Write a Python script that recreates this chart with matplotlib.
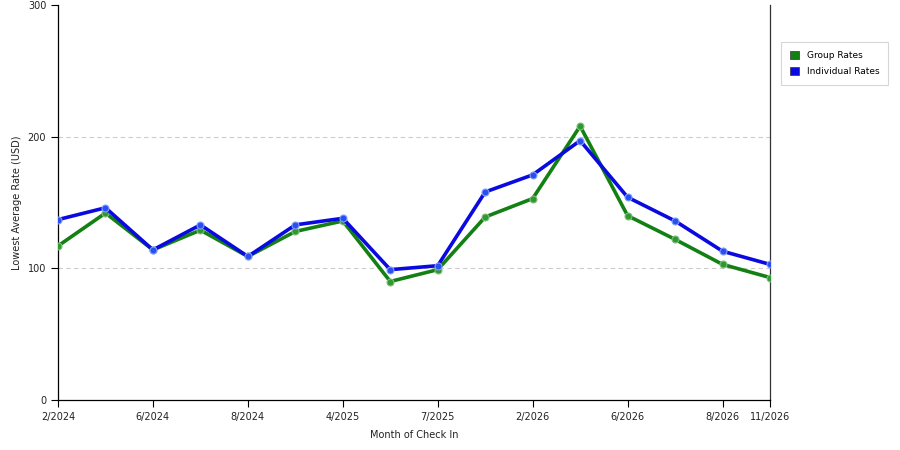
import matplotlib
matplotlib.use("Agg")
import matplotlib.pyplot as plt
from matplotlib.patches import Patch

# lowest average rate per month of check-in
months = ["2/2024", "4/2024", "6/2024", "7/2024", "8/2024", "10/2024", "4/2025", "6/2025",
          "7/2025", "9/2025", "2/2026", "4/2026", "6/2026", "7/2026", "8/2026", "11/2026"]
group_rates = [117, 142, 114, 129, 109, 128, 136, 90, 99, 139, 153, 208, 140, 122, 103, 93]
individual_rates = [137, 146, 114, 133, 109, 133, 138, 99, 102, 158, 171, 197, 154, 136, 113, 103]
tick_idx = [0, 2, 4, 6, 8, 10, 12, 14, 15]
y_ticks = [0, 100, 200, 300]

GREEN = "#138013"
BLUE = "#0a0ae0"

plt.rcParams["font.family"] = ["DejaVu Sans"]

fig = plt.figure(figsize=(9, 4.5), dpi=100)
ax = fig.add_axes((58 / 900, 50 / 450, 712 / 900, 395 / 450))

x = list(range(len(months)))
ax.plot(x, group_rates, color=GREEN, lw=2.6, marker="o", ms=5,
        mfc="#2e9a2e", mec="#7fbf7f", mew=0.8, zorder=3)
ax.plot(x, individual_rates, color=BLUE, lw=2.6, marker="o", ms=5,
        mfc="#2a4ef0", mec="#7f9fff", mew=0.8, zorder=4)

ax.set_xlim(0, len(months) - 1)
ax.set_ylim(0, 300)
ax.set_xticks(tick_idx)
ax.set_xticklabels([months[i] for i in tick_idx])
ax.set_yticks(y_ticks)
ax.tick_params(labelsize=7, length=5, width=0.8, colors="black", labelcolor="#222222")

for v in y_ticks[1:-1]:
    ax.axhline(v, color="#cccccc", lw=0.8, ls=(0, (4, 3)), zorder=1)

ax.spines["top"].set_visible(False)
ax.spines["right"].set_color("#333333")
for s in ("left", "bottom", "right"):
    ax.spines[s].set_linewidth(0.9)

ax.set_xlabel("Month of Check In", fontsize=7, labelpad=6, color="#222222")
ax.set_ylabel("Lowest Average Rate (USD)", fontsize=7, labelpad=4, color="#222222")

handles = [Patch(facecolor=GREEN, edgecolor="#333333", lw=0.5, label="Group Rates"),
           Patch(facecolor=BLUE, edgecolor="#333333", lw=0.5, label="Individual Rates")]
leg = fig.legend(handles=handles, loc="upper left", bbox_to_anchor=(776 / 900, 1 - 37 / 450),
                 fontsize=6.5, frameon=True, fancybox=False, edgecolor="#cccccc",
                 handlelength=1.1, handleheight=1.1, handletextpad=0.8,
                 borderpad=1.0, labelspacing=0.75)
leg.get_frame().set_linewidth(0.8)

fig.savefig("out.png", dpi=100)
